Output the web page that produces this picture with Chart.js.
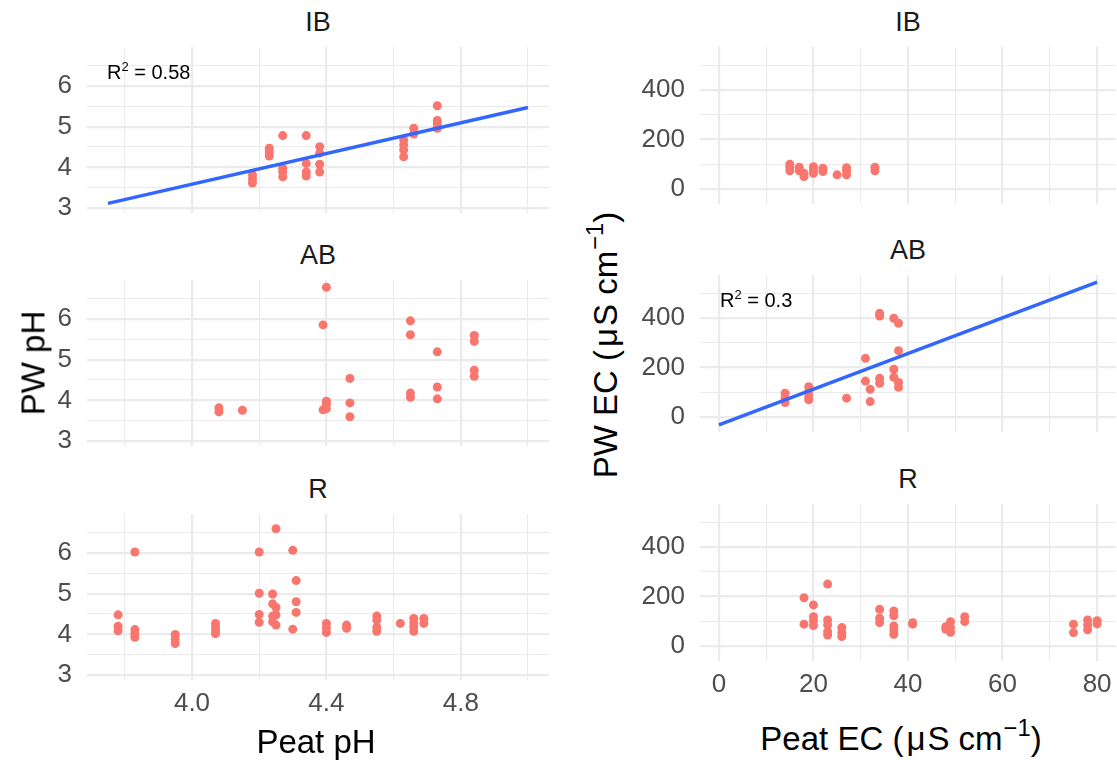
<!DOCTYPE html>
<html><head><meta charset="utf-8">
<script src="https://cdn.jsdelivr.net/npm/chart.js@4/dist/chart.umd.min.js"></script>
<style>
body{margin:0;background:#fff;}
#wrap{position:relative;width:1117px;height:760px;overflow:hidden;font-family:"Liberation Sans",Arial,sans-serif;background:#fff;}
canvas{position:absolute;}
.strip{position:absolute;font-size:27px;color:#1a1a1a;transform:translate(-50%,-50%);white-space:nowrap;line-height:1;}
.title{position:absolute;font-size:33px;color:#000;white-space:nowrap;line-height:1;transform:translate(-50%,-50%);}
.ytitle{transform:translate(-50%,-50%) rotate(-90deg);}
.ann{position:absolute;font-size:20px;color:#000;white-space:nowrap;line-height:1;}
sup{font-size:0.65em;vertical-align:0.6em;line-height:0;}
.title sup{font-size:0.72em;margin-left:1px;}
.mu{margin:0 2px 0 3px;}
</style></head>
<body><div id="wrap"></div>
<script>
// ---- Data ----
const phIB_peat = [4.18,4.18,4.18,4.23,4.23,4.23,4.27,4.27,4.27,4.27,4.34,4.34,4.34,4.34,4.38,4.38,4.38,4.38,4.63,4.63,4.63,4.63,4.66,4.66,4.73,4.73,4.73,4.73];
const phIB_pw   = [3.82,3.72,3.62,4.47,4.38,4.28,4.78,3.98,3.89,3.77,4.78,4.10,3.89,3.79,4.51,4.35,4.08,3.89,4.67,4.55,4.43,4.26,4.96,4.82,5.51,5.15,5.07,4.96];
const phIB_lineX = [3.75, 5.0];
const phIB_lineY = [3.12, 5.47];

const phAB_peat = [4.08,4.08,4.15,4.40,4.39,4.40,4.40,4.40,4.39,4.47,4.47,4.47,4.65,4.65,4.65,4.65,4.73,4.73,4.73,4.84,4.84,4.84,4.84];
const phAB_pw   = [3.82,3.72,3.76,6.77,5.85,3.98,3.90,3.80,3.77,4.54,3.94,3.60,5.95,5.61,4.18,4.08,5.19,4.33,4.04,5.59,5.45,4.74,4.59];

const phR_peat = [3.78,3.78,3.78,3.83,3.83,3.83,3.83,3.95,3.95,3.95,4.07,4.07,4.07,4.07,4.20,4.20,4.20,4.20,4.25,4.24,4.24,4.24,4.24,4.25,4.25,4.25,4.30,4.31,4.31,4.31,4.30,4.40,4.40,4.40,4.46,4.46,4.55,4.55,4.55,4.55,4.62,4.66,4.66,4.66,4.66,4.69,4.69];
const phR_pw   = [4.48,4.20,4.09,6.02,4.12,4.02,3.93,4.00,3.88,3.78,4.27,4.17,4.08,4.02,6.02,5.01,4.49,4.30,6.59,4.99,4.75,4.45,4.31,4.66,4.48,4.23,6.06,5.32,4.80,4.54,4.13,4.27,4.16,4.05,4.23,4.15,4.45,4.35,4.17,4.08,4.27,4.39,4.29,4.19,4.08,4.39,4.27];

const ecIB_peat = [15,15,15,17,17,18,18,20,20,20,22,22,25,27,27,27,33,33];
const ecIB_pw   = [100,88,73,88,73,63,50,90,77,63,84,70,57,86,73,57,88,73];

const ecAB_peat = [14,14,14,19,19,19,19,27,31,31,32,32,34,34,34,34,37,37,37,38,38,38,38];
const ecAB_pw   = [96,76,58,122,102,82,69,76,237,145,112,62,419,408,156,136,399,193,160,379,268,139,120];
const ecAB_lineX = [0, 80];
const ecAB_lineY = [-32, 545];

const ecR_peat = [18,18,20,20,20,20,23,23,23,23,23,26,26,26,34,34,34,37,37,37,37,37,41,41,48,48,49,49,49,52,52,75,75,78,78,78,80,80];
const ecR_pw   = [195,88,166,118,102,82,250,105,85,58,44,74,54,38,148,112,94,141,122,81,65,47,94,88,78,67,98,74,55,118,98,88,54,105,85,65,102,89];

// ---- Axis ticks ----
const phX_ticks = [3.8,4.0,4.2,4.4,4.6,4.8,5.0];
const phX_major = [4.0,4.4,4.8];
const phY_ticks = [3,3.5,4,4.5,5,5.5,6,6.5];
const phY_major = [3,4,5,6];
const ecX_ticks = [0,10,20,30,40,50,60,70,80];
const ecX_major = [0,20,40,60,80];
const ecY_ticks = [0,100,200,300,400,500];
const ecY_major = [0,200,400];

const FONT = '"Liberation Sans", Arial, sans-serif';
const wrap = document.getElementById('wrap');

function zip(xs, ys){ return xs.map((x,i)=>({x:x, y:ys[i]})); }
function noPad(s){ s.paddingTop = 0; s.paddingBottom = 0; s.paddingLeft = 0; s.paddingRight = 0; }

function panel(box, xs, ys, pts, line, showX){
  const YW = 60, XH = showX ? 50 : 18;
  const c = document.createElement('canvas');
  c.width = box.w + YW; c.height = box.h + XH;
  c.style.left = (box.l - YW) + 'px'; c.style.top = box.t + 'px';
  c.style.width = c.width + 'px'; c.style.height = c.height + 'px';
  wrap.appendChild(c);
  const datasets = [];
  if (line) datasets.push({type:'scatter', showLine:true, data:line, borderColor:'#3366FF', borderWidth:3.5, pointRadius:0, fill:false});
  datasets.push({type:'scatter', data:pts, backgroundColor:'#F8766D', borderWidth:0, pointRadius:4.5, pointHoverRadius:4.5});
  const gridW = (maj)=> (ctx)=> (ctx.tick && maj.includes(ctx.tick.value)) ? 2.2 : 1.1;
  new Chart(c, {type:'scatter', data:{datasets}, options:{
    responsive:false, animation:false, devicePixelRatio:1,
    layout:{padding:0, autoPadding:false},
    plugins:{legend:{display:false}, tooltip:{enabled:false}},
    scales:{
      x:{type:'linear', min:xs.min, max:xs.max,
        afterBuildTicks:s=>{ s.ticks = xs.ticks.map(v=>({value:v})); },
        afterFit:s=>{ s.height = XH; noPad(s); },
        grid:{color:'#EBEBEB', lineWidth:gridW(xs.major), drawTicks:false},
        border:{display:false},
        ticks:{display:showX, autoSkip:false, maxRotation:0, padding:8, color:'#4D4D4D', font:{size:26, family:FONT},
          callback:v=> xs.major.includes(v) ? xs.fmt(v) : ''}},
      y:{type:'linear', min:ys.min, max:ys.max,
        afterBuildTicks:s=>{ s.ticks = ys.ticks.map(v=>({value:v})); },
        afterFit:s=>{ s.width = YW; noPad(s); },
        grid:{color:'#EBEBEB', lineWidth:gridW(ys.major), drawTicks:false},
        border:{display:false},
        ticks:{autoSkip:false, padding:15, color:'#4D4D4D', font:{size:26, family:FONT},
          callback:v=> ys.major.includes(v) ? String(v) : ''}}
    }
  }});
}

const phX = {min:3.6875, max:5.0625, ticks:phX_ticks, major:phX_major, fmt:v=>v.toFixed(1)};
const phY = {min:2.885, max:6.95, ticks:phY_ticks, major:phY_major};
const ecX = {min:-4, max:84, ticks:ecX_ticks, major:ecX_major, fmt:v=>String(v)};
const ecY = {min:-61, max:574, ticks:ecY_ticks, major:ecY_major};

panel({l:87, t:47,  w:462, h:166}, phX, phY, zip(phIB_peat, phIB_pw), zip(phIB_lineX, phIB_lineY), false);
panel({l:87, t:280, w:462, h:166}, phX, phY, zip(phAB_peat, phAB_pw), null, false);
panel({l:87, t:514, w:462, h:166}, phX, phY, zip(phR_peat, phR_pw), null, true);
panel({l:700, t:47,  w:416, h:157}, ecX, ecY, zip(ecIB_peat, ecIB_pw), null, false);
panel({l:700, t:275, w:416, h:157}, ecX, ecY, zip(ecAB_peat, ecAB_pw), zip(ecAB_lineX, ecAB_lineY), false);
panel({l:700, t:504, w:416, h:157}, ecX, ecY, zip(ecR_peat, ecR_pw), null, true);

function addText(cls, html, x, y){
  const d = document.createElement('div');
  d.className = cls; d.innerHTML = html;
  d.style.left = x + 'px'; d.style.top = y + 'px';
  wrap.appendChild(d);
}
// strip titles
addText('strip', 'IB', 318, 22);
addText('strip', 'AB', 318, 255);
addText('strip', 'R', 318, 489);
addText('strip', 'IB', 908, 22);
addText('strip', 'AB', 908, 250);
addText('strip', 'R', 908, 479);
// axis titles
addText('title', 'Peat pH', 316, 741);
addText('title', 'Peat EC (<span class="mu">μ</span>S cm<sup>−1</sup>)', 901, 738);
addText('title ytitle', 'PW pH', 33, 363);
addText('title ytitle', 'PW EC (<span class="mu">μ</span>S cm<sup>−1</sup>)', 605, 345);
// annotations
addText('ann', 'R<sup>2</sup> = 0.58', 107, 62);
addText('ann', 'R<sup>2</sup> = 0.3', 720, 290);
</script>
</body></html>
